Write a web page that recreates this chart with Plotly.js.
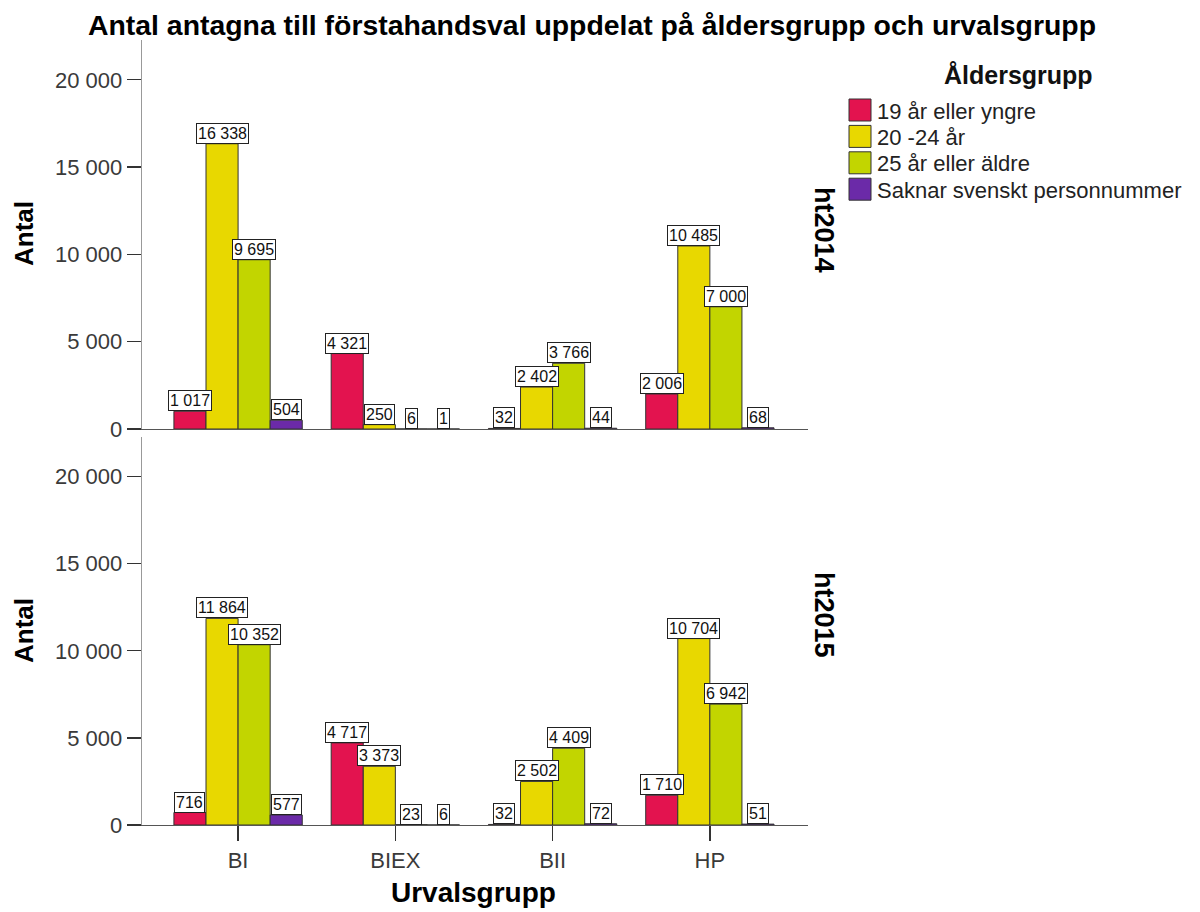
<!DOCTYPE html>
<html>
<head>
<meta charset="utf-8">
<script src="https://cdn.plot.ly/plotly-3.0.1.min.js"></script>
<style>html,body{margin:0;padding:0;background:#fff;}#chart{width:1200px;height:912px;}</style>
</head>
<body>
<div id="chart"></div>
<script>
// ---- data ----
const categories = ['BI', 'BIEX', 'BII', 'HP'];
const groupNames = ['19 år eller yngre', '20 -24 år', '25 år eller äldre', 'Saknar svenskt personnummer'];
const groupColors = ['#e3134f', '#e8d800', '#c2d500', '#6b2aa8'];
const periods = ['ht2014', 'ht2015'];

const ht2014_19 = [1017, 4321, 32, 2006];
const ht2014_20_24 = [16338, 250, 2402, 10485];
const ht2014_25 = [9695, 6, 3766, 7000];
const ht2014_saknar = [504, 1, 44, 68];

const ht2015_19 = [716, 4717, 32, 1710];
const ht2015_20_24 = [11864, 3373, 2502, 10704];
const ht2015_25 = [10352, 23, 4409, 6942];
const ht2015_saknar = [577, 6, 72, 51];

const yTickVals = [0, 5000, 10000, 15000, 20000];

// ---- build ----
const FONT = '"Liberation Sans", Arial, sans-serif';
const W = 1200, H = 912;
const px = v => v / W;
const py = v => 1 - v / H;

const panels = [
  {name: periods[0], series: [ht2014_19, ht2014_20_24, ht2014_25, ht2014_saknar], xa: 'x', ya: 'y'},
  {name: periods[1], series: [ht2015_19, ht2015_20_24, ht2015_25, ht2015_saknar], xa: 'x2', ya: 'y2'}
];

const bargap = 0.184;
const barW = (1 - bargap) / groupNames.length;
const fmt = v => String(v).replace(/\B(?=(\d{3})+(?!\d))/g, ' ');

const traces = [];
const annotations = [];
const shapes = [];

panels.forEach((p, pi) => {
  p.series.forEach((vals, gi) => {
    traces.push({
      type: 'bar', x: categories, y: vals, name: groupNames[gi],
      xaxis: p.xa, yaxis: p.ya, showlegend: false,
      marker: {color: groupColors[gi], line: {color: '#333', width: 1}},
      hoverinfo: 'x+y+name'
    });
    vals.forEach((v, ci) => {
      annotations.push({
        xref: p.xa, yref: p.ya, x: ci + (gi - 1.5) * barW, y: v,
        xanchor: 'center', yanchor: 'bottom', showarrow: false,
        text: fmt(v), font: {family: FONT, size: 16, color: '#111'},
        bgcolor: '#fff', bordercolor: '#222', borderwidth: 1, borderpad: 1
      });
    });
  });
});

// axis titles and panel labels
annotations.push({xref: 'paper', yref: 'paper', x: px(24), y: py(234), text: '<b>Antal</b>', textangle: -90,
  showarrow: false, xanchor: 'center', yanchor: 'middle', font: {family: FONT, size: 26, color: '#000'}});
annotations.push({xref: 'paper', yref: 'paper', x: px(24), y: py(631), text: '<b>Antal</b>', textangle: -90,
  showarrow: false, xanchor: 'center', yanchor: 'middle', font: {family: FONT, size: 26, color: '#000'}});
annotations.push({xref: 'paper', yref: 'paper', x: px(824), y: py(230), text: '<b>' + periods[0] + '</b>', textangle: 90,
  showarrow: false, xanchor: 'center', yanchor: 'middle', font: {family: FONT, size: 27, color: '#000'}});
annotations.push({xref: 'paper', yref: 'paper', x: px(824), y: py(615), text: '<b>' + periods[1] + '</b>', textangle: 90,
  showarrow: false, xanchor: 'center', yanchor: 'middle', font: {family: FONT, size: 27, color: '#000'}});
annotations.push({xref: 'paper', yref: 'paper', x: px(473), y: py(892), text: '<b>Urvalsgrupp</b>',
  showarrow: false, xanchor: 'center', yanchor: 'middle', font: {family: FONT, size: 28, color: '#000'}});

// legend (manual)
annotations.push({xref: 'paper', yref: 'paper', x: px(1018), y: py(75), text: '<b>Åldersgrupp</b>',
  showarrow: false, xanchor: 'center', yanchor: 'middle', font: {family: FONT, size: 25, color: '#111'}});
groupNames.forEach((g, gi) => {
  const cy = 110 + gi * 26.4;
  shapes.push({type: 'rect', xref: 'paper', yref: 'paper', x0: px(849), x1: px(871), y0: py(cy - 11), y1: py(cy + 11),
    fillcolor: groupColors[gi], line: {color: '#333', width: 1}});
  annotations.push({xref: 'paper', yref: 'paper', x: px(875), y: py(cy + 1), text: g,
    showarrow: false, xanchor: 'left', yanchor: 'middle', font: {family: FONT, size: 22, color: '#222'}});
});

const xRange = [-0.611, 3.624];
const yRange = [0, 22280];
const xDom = [px(142), px(808)];

const yAxisCommon = {
  range: yRange, tickvals: yTickVals, tickformat: ',d', ticks: 'outside', ticklen: 14, tickwidth: 1.3,
  tickcolor: '#333', showline: true, linecolor: '#999', linewidth: 1.3, showgrid: false, zeroline: false,
  tickfont: {family: FONT, size: 22, color: '#3a3a3a'}, fixedrange: true
};

const layout = {
  width: W, height: H,
  margin: {l: 0, r: 0, t: 0, b: 0},
  paper_bgcolor: '#fff', plot_bgcolor: '#fff',
  separators: ', ',
  barmode: 'group', bargap: bargap, bargroupgap: 0,
  showlegend: false,
  title: {text: '<b>Antal antagna till förstahandsval uppdelat på åldersgrupp och urvalsgrupp</b>',
    x: px(592), xanchor: 'center', xref: 'paper', y: py(25), yanchor: 'middle', yref: 'container',
    font: {family: FONT, size: 28.4, color: '#000'}},
  xaxis: {domain: xDom, anchor: 'y', type: 'category', range: xRange, showticklabels: false, ticks: '',
    showline: true, linecolor: '#555', linewidth: 1.3, showgrid: false, zeroline: false, fixedrange: true},
  yaxis: Object.assign({}, yAxisCommon, {domain: [py(429), py(40)], anchor: 'x'}),
  xaxis2: {domain: xDom, anchor: 'y2', type: 'category', range: xRange, ticks: 'outside', ticklen: 15,
    tickwidth: 1.3, tickcolor: '#333', showline: true, linecolor: '#555', linewidth: 1.3, showgrid: false,
    zeroline: false, tickfont: {family: FONT, size: 22, color: '#3a3a3a'}, fixedrange: true},
  yaxis2: Object.assign({}, yAxisCommon, {domain: [py(825), py(437)], anchor: 'x2'}),
  annotations: annotations,
  shapes: shapes,
  font: {family: FONT}
};

Plotly.newPlot('chart', traces, layout, {displayModeBar: false, staticPlot: true});
</script>
</body>
</html>
